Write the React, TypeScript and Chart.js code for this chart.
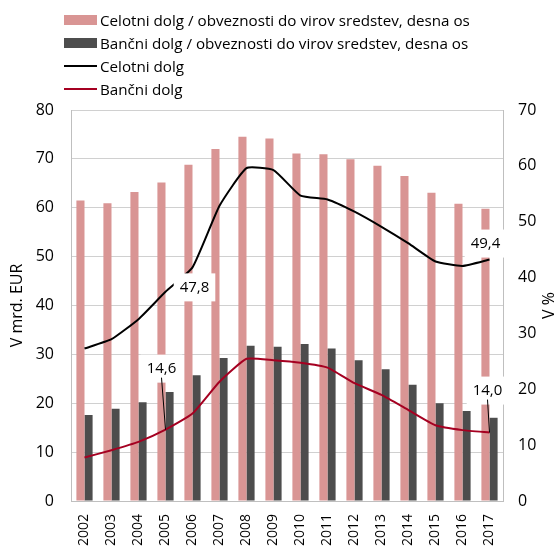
import React, { useEffect, useRef } from "react";
import { Chart, registerables } from "chart.js";

Chart.register(...registerables);

const FONT = "'Open Sans', 'Noto Sans', sans-serif";

const years = ["2002", "2003", "2004", "2005", "2006", "2007", "2008", "2009", "2010", "2011", "2012", "2013", "2014", "2015", "2016", "2017"];
const totalRatio = [53.8, 53.3, 55.3, 57.0, 60.2, 63.0, 65.2, 64.9, 62.2, 62.1, 61.2, 60.0, 58.2, 55.2, 53.2, 52.3];
const bankRatio = [15.4, 16.5, 17.7, 19.5, 22.5, 25.6, 27.8, 27.6, 28.1, 27.3, 25.2, 23.6, 20.8, 17.5, 16.1, 14.9];
const totalDebt = [31.2, 33.1, 37.2, 42.8, 47.8, 60.4, 68.1, 67.7, 62.5, 61.7, 59.2, 56.1, 52.7, 49.0, 48.1, 49.4];
const bankDebt = [8.9, 10.4, 12.1, 14.6, 17.9, 24.4, 29.1, 28.8, 28.3, 27.3, 24.1, 21.7, 18.6, 15.5, 14.5, 14.0];

const seriesNames = [
  "Celotni dolg / obveznosti do virov sredstev, desna os",
  "Bančni dolg / obveznosti do virov sredstev, desna os",
  "Celotni dolg",
  "Bančni dolg",
];
const leftTitle = "V mrd. EUR";
const rightTitle = "V %";

const COLORS = ["#d99594", "#4d4d4d", "#000000", "#a50021"];

// labelled points: dataset index (in chart), data index, label offset
const pointLabels = [
  { ds: 0, i: 4, dx: 2, dy: 20, leader: false },
  { ds: 1, i: 3, dx: -4, dy: -61, leader: true },
  { ds: 0, i: 15, dx: -4, dy: -16, leader: false },
  { ds: 1, i: 15, dx: -2, dy: -42, leader: true },
];

const labelPlugin = {
  id: "pointLabels",
  afterDatasetsDraw(chart: any) {
    const ctx = chart.ctx;
    ctx.save();
    ctx.font = `15px ${FONT}`;
    for (const l of pointLabels) {
      const el = chart.getDatasetMeta(l.ds).data[l.i];
      const px = el.x;
      const py = el.y;
      const cx = px + l.dx;
      const cy = py + l.dy;
      const v = chart.data.datasets[l.ds].data[l.i] as number;
      const text = v.toFixed(1).replace(".", ",");
      const w = ctx.measureText(text).width + 12;
      const h = 28;
      ctx.fillStyle = "#ffffff";
      ctx.fillRect(cx - w / 2, cy - h / 2, w, h);
      if (l.leader) {
        ctx.strokeStyle = "#000";
        ctx.lineWidth = 1;
        ctx.beginPath();
        ctx.moveTo(cx, cy + 9);
        ctx.lineTo(px, py);
        ctx.stroke();
      }
      ctx.fillStyle = "#000";
      ctx.textAlign = "center";
      ctx.textBaseline = "middle";
      ctx.fillText(text, cx, cy);
    }
    ctx.restore();
  },
  afterDraw(chart: any) {
    const ctx = chart.ctx;
    const area = chart.chartArea;
    ctx.save();
    ctx.font = `16px ${FONT}`;
    ctx.fillStyle = "#000";
    ctx.textAlign = "center";
    ctx.textBaseline = "middle";
    ctx.translate(549, (area.top + area.bottom) / 2);
    ctx.rotate(-Math.PI / 2);
    ctx.fillText(rightTitle, 0, 0);
    ctx.restore();
  },
};

export default function App() {
  const ref = useRef<HTMLCanvasElement>(null);
  useEffect(() => {
    if (!ref.current) return;
    const chart = new Chart(ref.current, {
      type: "bar",
      data: {
        labels: years,
        datasets: [
          {
            type: "line",
            label: seriesNames[2],
            data: totalDebt,
            yAxisID: "yL",
            borderColor: COLORS[2],
            borderWidth: 2,
            pointRadius: 0,
            tension: 0.15,
            fill: false,
          } as any,
          {
            type: "line",
            label: seriesNames[3],
            data: bankDebt,
            yAxisID: "yL",
            borderColor: COLORS[3],
            borderWidth: 2,
            pointRadius: 0,
            tension: 0.15,
            fill: false,
          } as any,
          {
            type: "bar",
            label: seriesNames[0],
            data: totalRatio,
            yAxisID: "yR",
            backgroundColor: COLORS[0],
            categoryPercentage: 0.6,
            barPercentage: 1,
          },
          {
            type: "bar",
            label: seriesNames[1],
            data: bankRatio,
            yAxisID: "yR",
            backgroundColor: COLORS[1],
            categoryPercentage: 0.6,
            barPercentage: 1,
          },
        ],
      },
      options: {
        responsive: false,
        animation: false,
        layout: { padding: { top: 110, left: 0, right: 0, bottom: 0 } },
        plugins: { legend: { display: false }, tooltip: { enabled: false } },
        font: { family: FONT },
        scales: {
          x: {
            grid: { display: false },
            border: { display: true, color: "#bfbfbf" },
            ticks: {
              color: "#000",
              font: { family: FONT, size: 14 },
              minRotation: 90,
              maxRotation: 90,
              padding: 5,
            },
            afterFit: (s: any) => {
              s.height = 48;
            },
          },
          yL: {
            position: "left",
            min: 0,
            max: 80,
            ticks: {
              stepSize: 10,
              color: "#000",
              font: { family: FONT, size: 16 },
              padding: 17,
            },
            grid: { color: "#d0d0d0", drawTicks: false },
            border: { display: true, color: "#bfbfbf" },
            title: {
              display: true,
              text: leftTitle,
              color: "#000",
              font: { family: FONT, size: 16 },
              padding: { top: 8, bottom: 0 },
            },
            afterFit: (s: any) => {
              s.width = 71;
            },
          },
          yR: {
            position: "right",
            min: 0,
            max: 70,
            ticks: {
              stepSize: 10,
              color: "#000",
              font: { family: FONT, size: 16 },
              padding: 15,
            },
            grid: { drawOnChartArea: false, drawTicks: false },
            border: { display: true, color: "#bfbfbf" },
            afterFit: (s: any) => {
              s.width = 56;
            },
          },
        },
      } as any,
      plugins: [labelPlugin],
    });
    return () => chart.destroy();
  }, []);

  const legendRows = [
    { name: seriesNames[0], color: COLORS[0], kind: "box" },
    { name: seriesNames[1], color: COLORS[1], kind: "box" },
    { name: seriesNames[2], color: COLORS[2], kind: "line" },
    { name: seriesNames[3], color: COLORS[3], kind: "line" },
  ];

  return (
    <div style={{ position: "fixed", left: 0, top: 0, width: 559, height: 549, background: "#fff" }}>
      <canvas ref={ref} width={559} height={549} style={{ position: "absolute", left: 0, top: 0 }} />
      {legendRows.map((r, k) => (
        <div
          key={k}
          style={{
            position: "absolute",
            left: 64,
            top: 20 + k * 23 - 11,
            height: 22,
            display: "flex",
            alignItems: "center",
            fontFamily: FONT,
            fontSize: 15.2,
            color: "#000",
            whiteSpace: "nowrap",
          }}
        >
          <span
            style={{
              display: "inline-block",
              width: 33,
              height: r.kind === "box" ? 10 : 2,
              background: r.color,
              marginRight: 3,
              flex: "none",
            }}
          />
          <span>{r.name}</span>
        </div>
      ))}
    </div>
  );
}
